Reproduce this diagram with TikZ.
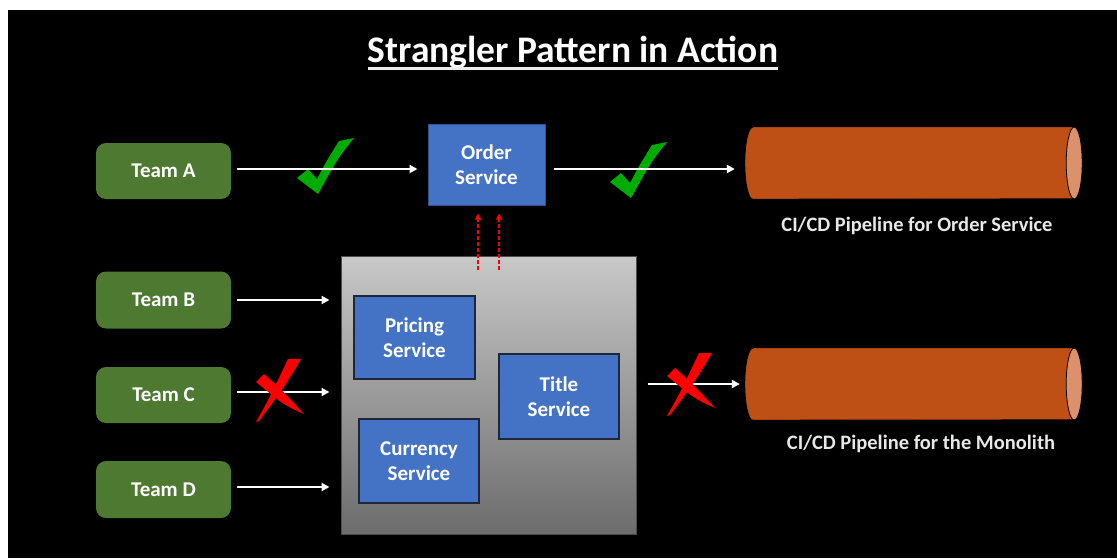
\documentclass[tikz,border=0pt]{standalone}
\usepackage{fontspec}
\setmainfont{Carlito}
\usetikzlibrary{arrows.meta}
\definecolor{teamgreen}{RGB}{78,121,48}
\definecolor{svcblue}{RGB}{68,114,196}
\definecolor{svcedge}{RGB}{30,38,58}
\definecolor{orderedge}{RGB}{47,82,143}
\definecolor{pipecol}{RGB}{190,80,22}
\definecolor{pipeend}{RGB}{218,145,108}
\definecolor{checkgreen}{RGB}{0,172,0}
\definecolor{labelgray}{RGB}{232,232,232}
\definecolor{monotop}{RGB}{200,200,200}
\definecolor{monobot}{RGB}{108,108,108}
\begin{document}
\begin{tikzpicture}[x=1pt,y=-1pt,
  teambox/.style={fill=teamgreen, rounded corners=10pt, minimum width=135pt, minimum height=56pt,
    text=white, font=\fontsize{21}{24}\selectfont\bfseries, inner sep=0pt},
  svcbox/.style={fill=svcblue, draw=svcedge, line width=2pt, minimum width=120pt, minimum height=84pt,
    text=white, align=center, font=\fontsize{21}{25}\selectfont\bfseries, inner sep=0pt},
  pipebox/.style={minimum width=337pt, minimum height=72pt, inner sep=0pt},
  pipelabel/.style={text=labelgray, font=\fontsize{20.5}{24}\selectfont\bfseries, inner sep=0pt},
  flow/.style={draw=white, line width=2.6pt, -{Triangle[length=8pt,width=8pt]}},
  extract/.style={draw=red, line width=1.2pt, dash pattern=on 4pt off 2pt, -{Triangle[length=6pt,width=6pt]}},
  okmark/.pic={\fill[checkgreen] (0,40) -- (11,31) -- (20,41) .. controls (29,24) .. (42,3) -- (57,0) .. controls (41,20) .. (21,56) -- cycle;},
  nomark/.pic={\fill[red] (0,63) .. controls (13,40) .. (32,0) -- (45,0) .. controls (27,30) .. (3,62) -- cycle;
     \fill[red] (0,23) -- (8,15) .. controls (26,31) .. (48,55) .. controls (28,46) .. (0,23) -- cycle;}
]
\useasboundingbox (0,0) rectangle (1117,558);
\fill[white] (0,0) rectangle (1117,558);
\fill[black] (8,10) rectangle (1117,558);

% title
\node[font=\fontsize{37.5}{40}\selectfont\bfseries, text=white, anchor=base, inner sep=0pt] (title) at (573,62) {Strangler Pattern in Action};
\draw[white!85!gray, line width=3pt] ([yshift=-6pt]title.base west) -- ([yshift=-6pt]title.base east);

% teams
\node[teambox] (teamA) at (163.5,171) {Team A};
\node[teambox, minimum height=57pt] (teamB) at (163.5,300) {Team B};
\node[teambox] (teamC) at (163.5,395) {Team C};
\node[teambox, minimum height=57pt] (teamD) at (163.5,489.5) {Team D};

% order service
\node[svcbox, draw=orderedge, line width=1pt, minimum width=117pt, minimum height=81pt] (order) at (486.5,164.5) {Order\\Service};

% monolith
\node[top color=monotop, bottom color=monobot, draw=black!70, line width=1pt,
      minimum width=295pt, minimum height=278pt, inner sep=0pt] (mono) at (488.5,395.5) {};
\node[svcbox, minimum width=121pt, minimum height=83pt] (pricing) at (414.5,337.5) {Pricing\\Service};
\node[svcbox, minimum height=85pt] (titlesvc) at (559,396.5) {Title\\Service};
\node[svcbox] (currency) at (419,461) {Currency\\Service};

% pipelines
\node[pipebox] (pipe1) at (913.5,163) {};
\node[pipebox] (pipe2) at (913.5,384) {};
\foreach \p in {pipe1,pipe2}{
  \filldraw[fill=pipecol, draw=black, line width=0.8pt]
    ([xshift=8pt]\p.north west) -- ([xshift=-8pt]\p.north east)
    arc[start angle=90, end angle=-90, x radius=8pt, y radius=36pt]
    -- ([xshift=8pt]\p.south west)
    arc[start angle=270, end angle=90, x radius=8pt, y radius=36pt] -- cycle;
  \filldraw[fill=pipeend, draw=black, line width=0.8pt] ([xshift=-8pt]\p.east) ellipse[x radius=8pt, y radius=36pt];
}
\node[pipelabel] (label1) at (917,226) {CI/CD Pipeline for Order Service};
\node[pipelabel] (label2) at (921,444) {CI/CD Pipeline for the Monolith};

% check marks (under arrows)
\pic at (297,138) {okmark};
\pic at (610,142) {okmark};

% arrows
\coordinate (rowA) at (0,169);
\draw[flow, shorten <=6pt, shorten >=10pt] (teamA.east |- rowA) -- (order.west |- rowA);
\draw[flow, shorten <=8pt, shorten >=10pt] (order.east |- rowA) -- (pipe1.west |- rowA);
\draw[flow, shorten <=6pt, shorten >=11pt] (teamB.east) -- (teamB.east -| mono.west);
\coordinate (rowC) at (0,392);
\draw[flow, shorten <=6pt, shorten >=11pt] (teamC.east |- rowC) -- (mono.west |- rowC);
\coordinate (rowD) at (0,487);
\draw[flow, shorten <=6pt, shorten >=11pt] (teamD.east |- rowD) -- (mono.west |- rowD);
\draw[flow, shorten <=11pt, shorten >=5pt] (mono.east |- pipe2.west) -- (pipe2.west);

% extraction arrows
\coordinate (ex1) at (478,270);
\coordinate (ex2) at (499,270);
\draw[extract, shorten >=8pt] (ex1) -- (ex1 |- order.south);
\draw[extract, shorten >=8pt] (ex2) -- (ex2 |- order.south);

% red crosses
\pic at (256,359) {nomark};
\pic at (667,353) {nomark};
\end{tikzpicture}
\end{document}
